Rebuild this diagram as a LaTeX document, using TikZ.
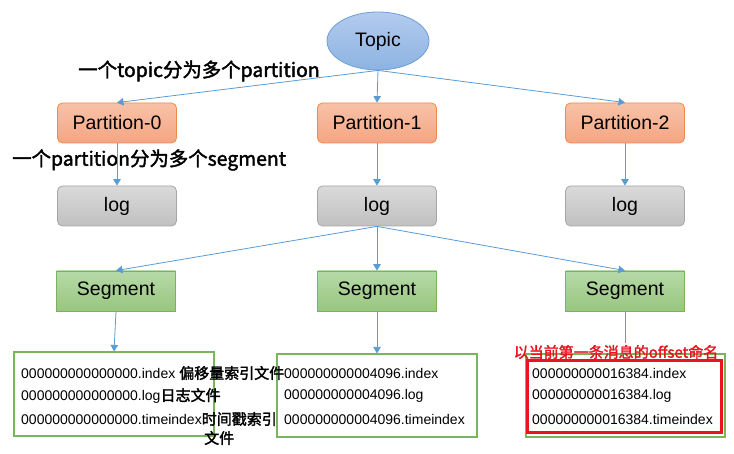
\documentclass[tikz,border=0pt]{standalone}
\usepackage{fontspec}
\setmainfont{Liberation Sans}
\newfontfamily\cjk{Noto Sans CJK SC}[AutoFakeBold=2]
\usetikzlibrary{arrows.meta,shapes.geometric}
\definecolor{edgeblue}{HTML}{5B9BD5}
\definecolor{topicTop}{HTML}{B3CBEE}
\definecolor{topicBot}{HTML}{8DB3E2}
\definecolor{topicBorder}{HTML}{6E9ED4}
\definecolor{partTop}{HTML}{F8C2A8}
\definecolor{partBot}{HTML}{F4A582}
\definecolor{partBorder}{HTML}{F08A4B}
\definecolor{logTop}{HTML}{DADADA}
\definecolor{logBot}{HTML}{C0C0C0}
\definecolor{logBorder}{HTML}{A6A6A6}
\definecolor{segTop}{HTML}{B7DAA8}
\definecolor{segBot}{HTML}{98C57F}
\definecolor{segBorder}{HTML}{79B35A}
\definecolor{fileBorder}{HTML}{7AB55C}
\definecolor{hiRed}{HTML}{E8141E}
\begin{document}
\begin{tikzpicture}[x=1pt,y=-1pt,
  box/.style={minimum width=119pt, minimum height=40pt, inner sep=0pt, font=\fontsize{19.5}{22}\selectfont, line width=0.8pt},
  topicnode/.style={ellipse, minimum width=102pt, minimum height=58pt, inner sep=0pt, draw=topicBorder, top color=topicTop, bottom color=topicBot, line width=0.8pt, font=\fontsize{19.5}{22}\selectfont},
  partbox/.style={box, rounded corners=5pt, draw=partBorder, top color=partTop, bottom color=partBot},
  logbox/.style={box, rounded corners=5pt, draw=logBorder, top color=logTop, bottom color=logBot},
  segbox/.style={box, draw=segBorder, top color=segTop, bottom color=segBot},
  filebox/.style={draw=fileBorder, line width=1.2pt, fill=white, inner sep=0pt},
  ftext/.style={anchor=west, inner sep=0pt, font=\fontsize{14}{16}\selectfont},
  cjklabel/.style={anchor=west, inner sep=0pt, font=\cjk\bfseries\fontsize{19.4}{21}\selectfont},
  conn/.style={draw=edgeblue, line width=0.8pt, -{Triangle[length=6.5pt,width=7.5pt]}},
  plainconn/.style={draw=edgeblue, line width=0.8pt}
]
\useasboundingbox (0,0) rectangle (734,454);

\node[topicnode] (topic) at (378,41) {Topic};
\node[partbox] (p0) at (117,123) {Partition-0};
\node[partbox] (p1) at (377,123) {Partition-1};
\node[partbox] (p2) at (625,123) {Partition-2};
\node[logbox] (l0) at (117,206) {log};
\node[logbox] (l1) at (377,206) {log};
\node[logbox] (l2) at (625,206) {log};
\node[segbox] (s0) at (116,291) {Segment};
\node[segbox] (s1) at (377,291) {Segment};
\node[segbox] (s2) at (625,291) {Segment};

\node[filebox, minimum width=200pt, minimum height=84pt] (f0) at (114,394) {};
\node[filebox, minimum width=200pt, minimum height=83pt] (f1) at (377,395.5) {};
\node[filebox, minimum width=199pt, minimum height=83pt] (f2) at (625.5,395.5) {};
\node[draw=hiRed, line width=3pt, minimum width=194pt, minimum height=71pt, inner sep=0pt] (red) at (624,396.5) {};

\node[ftext] (f0a) at (21,373) {000000000000000.index {\cjk\bfseries\fontsize{15}{17}\selectfont 偏移量索引文件}};
\node[ftext] (f0b) at (21,396) {000000000000000.log{\cjk\bfseries\fontsize{15}{17}\selectfont 日志文件}};
\node[ftext] (f0c) at (21,419) {000000000000000.timeindex{\cjk\bfseries\fontsize{15}{17}\selectfont 时间戳索引}};
\node[ftext, font=\cjk\bfseries\fontsize{15}{17}\selectfont] (f0d) at (204,438) {文件};

\node[ftext] (f1a) at (284,373) {000000000004096.index};
\node[ftext] (f1b) at (284,396) {000000000004096.log};
\node[ftext] (f1c) at (284,419) {000000000004096.timeindex};

\node[ftext] (f2a) at (532,373) {000000000016384.index};
\node[ftext] (f2b) at (532,396) {000000000016384.log};
\node[ftext] (f2c) at (532,419) {000000000016384.timeindex};

\node[cjklabel] (lab1) at (78,71) {一个topic分为多个partition};
\node[cjklabel] (lab2) at (12,160) {一个partition分为多个segment};
\node[inner sep=0pt, text=hiRed, font=\cjk\bfseries\fontsize{15}{17}\selectfont] (lab3) at (616,352) {以当前第一条消息的offset命名};

\draw[conn] (topic.south) -- (p0.north);
\draw[conn] (topic.south) -- (p1.north);
\draw[conn] (topic.south) -- (p2.north);
\draw[conn] (p0.south) -- (l0.north);
\draw[conn] (p1.south) -- (l1.north);
\draw[conn] (p2.south) -- (l2.north);
\draw[conn] (l1.south) -- (s0.north);
\draw[conn] (l1.south) -- (s1.north);
\draw[conn] (l1.south) -- (s2.north);
\draw[conn] (s0.south) -- (f0.north);
\draw[conn] (s1.south) -- (f1.north);
\coordinate (s2end) at (625,343);
\draw[plainconn] (s2.south) -- (s2end);
\end{tikzpicture}
\end{document}
